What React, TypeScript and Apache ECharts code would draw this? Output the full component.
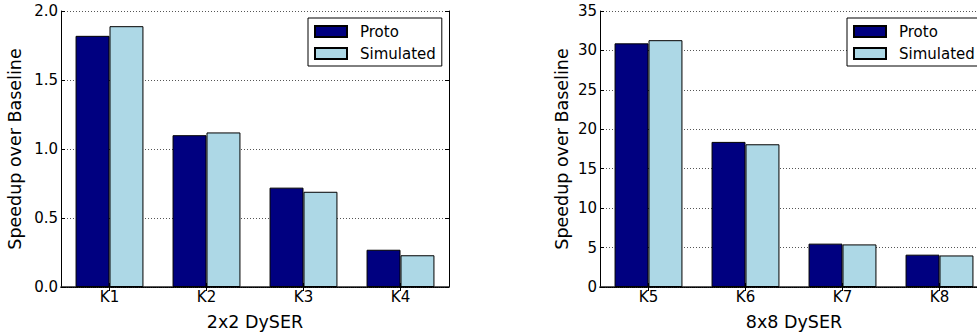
import React, { useEffect, useRef } from "react";
import * as echarts from "echarts";

const leftCategories = ["K1", "K2", "K3", "K4"];
const leftProto = [1.82, 1.1, 0.72, 0.27];
const leftSimulated = [1.89, 1.12, 0.69, 0.23];
const leftMax = 2.0;
const leftInterval = 0.5;

const rightCategories = ["K5", "K6", "K7", "K8"];
const rightProto = [30.9, 18.4, 5.5, 4.1];
const rightSimulated = [31.3, 18.1, 5.4, 4.0];
const rightMax = 35;
const rightInterval = 5;

const seriesNames = ["Proto", "Simulated"];
const xTitles = ["2x2 DySER", "8x8 DySER"];
const yTitle = "Speedup over Baseline";

const FONT = "DejaVu Sans";
const PROTO_COLOR = "#000080";
const SIM_COLOR = "#ADD8E6";

export default function App() {
  const ref = useRef<HTMLDivElement>(null);
  useEffect(() => {
    if (!ref.current) return;
    const chart = echarts.init(ref.current, null, { renderer: "svg" });

    const grids = [
      { left: 61, top: 11, width: 388, height: 276, containLabel: false, outerBoundsMode: "none" },
      { left: 600, top: 11, width: 388, height: 276, containLabel: false, outerBoundsMode: "none" },
    ];
    const cats = [leftCategories, rightCategories];
    const maxes = [leftMax, rightMax];
    const intervals = [leftInterval, rightInterval];
    const fmt = [(v: number) => v.toFixed(1), (v: number) => String(v)];

    const xAxis: any[] = [];
    const yAxis: any[] = [];
    [0, 1].forEach((g) => {
      xAxis.push({
        type: "category",
        gridIndex: g,
        position: "bottom",
        data: cats[g],
        name: xTitles[g],
        nameLocation: "middle",
        nameGap: 26,
        nameTextStyle: { fontFamily: FONT, fontSize: 17.5, color: "#000" },
        axisLine: { show: true, lineStyle: { color: "#222", width: 1.5 } },
        axisTick: { show: true, inside: true, alignWithLabel: true, length: 4, lineStyle: { color: "#000" } },
        axisLabel: { fontFamily: FONT, fontSize: 15, color: "#000", margin: 2 },
        splitLine: { show: false },
      });
      xAxis.push({
        type: "category",
        gridIndex: g,
        position: "top",
        data: cats[g],
        axisLine: { show: true, lineStyle: { color: "#000", width: 1, type: [1, 1] } },
        axisTick: { show: true, inside: true, alignWithLabel: true, length: 4, lineStyle: { color: "#000" } },
        axisLabel: { show: false },
        splitLine: { show: false },
      });
      yAxis.push({
        type: "value",
        gridIndex: g,
        position: "left",
        min: 0,
        max: maxes[g],
        interval: intervals[g],
        name: yTitle,
        nameLocation: "middle",
        nameGap: g === 0 ? 37 : 29,
        nameRotate: 90,
        nameTextStyle: { fontFamily: FONT, fontSize: 17.5, color: "#000" },
        axisLine: { show: true, lineStyle: { color: "#000", width: 1 } },
        axisTick: { show: true, inside: true, length: 4, lineStyle: { color: "#000" } },
        axisLabel: { fontFamily: FONT, fontSize: 15, color: "#000", margin: 3, formatter: fmt[g] },
        splitLine: { show: true, lineStyle: { color: "#555", width: 1, type: [1, 2] } },
      });
      yAxis.push({
        type: "value",
        gridIndex: g,
        position: "right",
        min: 0,
        max: maxes[g],
        interval: intervals[g],
        axisLine: { show: true, lineStyle: { color: "#000", width: 1 } },
        axisTick: { show: true, inside: true, length: 4, lineStyle: { color: "#000" } },
        axisLabel: { show: false },
        splitLine: { show: false },
      });
    });

    const barCommon = {
      type: "bar",
      barWidth: "35%",
      barGap: "0%",
    };
    const series: any[] = [
      { ...barCommon, name: seriesNames[0], xAxisIndex: 0, yAxisIndex: 0, data: leftProto,
        itemStyle: { color: PROTO_COLOR, borderColor: "#000", borderWidth: 1 } },
      { ...barCommon, name: seriesNames[1], xAxisIndex: 0, yAxisIndex: 0, data: leftSimulated,
        itemStyle: { color: SIM_COLOR, borderColor: "#000", borderWidth: 1 } },
      { ...barCommon, name: seriesNames[0], xAxisIndex: 2, yAxisIndex: 2, data: rightProto,
        itemStyle: { color: PROTO_COLOR, borderColor: "#000", borderWidth: 1 } },
      { ...barCommon, name: seriesNames[1], xAxisIndex: 2, yAxisIndex: 2, data: rightSimulated,
        itemStyle: { color: SIM_COLOR, borderColor: "#000", borderWidth: 1 } },
    ];

    const legendCommon = {
      orient: "vertical",
      top: 18,
      padding: [6, 6, 5, 6],
      itemWidth: 32,
      itemHeight: 11,
      itemGap: 7,
      icon: "rect",
      borderColor: "#000",
      borderWidth: 1,
      backgroundColor: "#fff",
      data: seriesNames,
      selectedMode: false,
      textStyle: { fontFamily: FONT, fontSize: 15, color: "#000", padding: [0, 0, 0, 8] },
    };

    chart.setOption({
      animation: false,
      backgroundColor: "#fff",
      grid: grids,
      xAxis,
      yAxis,
      series,
      legend: [
        { ...legendCommon, left: 308 },
        { ...legendCommon, left: 847 },
      ],
    });
    return () => chart.dispose();
  }, []);
  return (
    <div
      ref={ref}
      style={{ position: "fixed", left: 0, top: 0, width: 977, height: 332 }}
    />
  );
}
